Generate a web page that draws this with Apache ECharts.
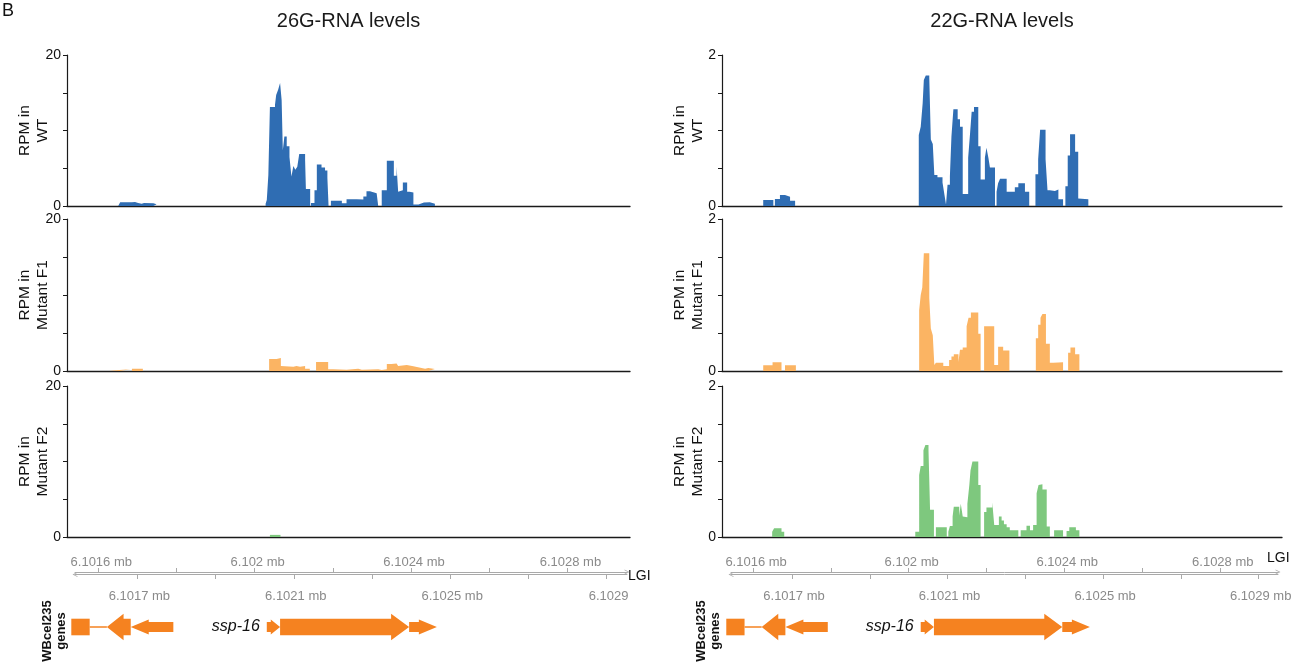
<!DOCTYPE html>
<html><head><meta charset="utf-8">
<script src="https://cdn.jsdelivr.net/npm/echarts@6/dist/echarts.min.js"></script>
<style>html,body{margin:0;padding:0;background:#fff}#chart{width:1292px;height:664px}</style>
</head><body><div id="chart"></div>
<script>
// ---------------- DATA ----------------
// genomic window shown (bp, chromosome I)
const REGION_START = 6101520;
const REGION_END = 6102960;

// coverage tracks: step functions, positions are bp offsets from REGION_START,
// value i holds from pos[i] to pos[i+1]

// 26G-RNA, WT (RPM)
const wt26Pos = [131,136,166,174,182,191,197,201,221,229,
  508,511,515,519,532,535,540,545,549,552,556,562,569,574,579,584,589,594,609,611,622,624,633,639,651,660,666,669,
  675,703,715,741,758,766,775,792,796,805,818,836,843,847,852,859,870,876,886,899,913,928,941];
const wt26Val = [0.22,0.49,0.53,0.40,0.30,0.40,0.22,0.35,0.22,0,
  0.3,0.8,4.1,13.1,13.4,14.7,15.4,16.3,14.0,7.4,9.2,7.9,6.5,3.9,5.3,4.8,5.2,6.9,6.1,2.25,0,0.4,2.1,5.5,5.1,4.7,3.7,0,
  0.7,0.35,0.9,0.85,1.25,1.95,1.7,1.5,0,2.1,6.0,4.0,5.2,1.9,2.1,3.1,1.9,1.8,0.2,0.45,0.5,0.3,0];

// 26G-RNA, Mutant F1
const f1_26Pos = [108,134,163,166,194,200,229,
  517,536,547,552,579,587,596,609,621,637,668,681,715,745,754,796,805,818,830,843,847,852,869,886,907,916,924,941];
const f1_26Val = [0.13,0.22,0,0.31,0,0.18,0,
  1.58,1.72,0.66,0.57,0.66,0.57,0.66,0.31,0,1.19,0.22,0.18,0.31,0.18,0.22,0.13,0.22,0.92,1.0,1.19,0.66,0.8,0.62,0.4,0.31,0.4,0.26,0];

// 26G-RNA, Mutant F2
const f2_26Pos = [519,546];
const f2_26Val = [0.28,0];

// 22G-RNA, WT
const wt22Pos = [106,132,136,149,162,175,188,
  506,511,516,519,524,533,537,542,546,554,567,572,576,580,586,590,595,606,612,619,633,638,642,648,659,665,676,680,685,689,702,
  706,710,715,732,753,762,779,790,806,813,818,832,837,843,856,865,877,883,889,895,908,916,920,942];
const wt22Val = [0.079,0,0.093,0.146,0.124,0.07,0,
  0.94,1.05,1.36,1.67,1.73,1.70,0.88,0.82,0.41,0.38,0.31,0.15,0.02,0.28,0.39,0.92,1.28,1.15,1.05,0.16,0.64,0.97,1.25,1.31,0.79,0.35,0.64,0.77,0.64,0.51,0,
  0.19,0.30,0.36,0.19,0.25,0.30,0.19,0,0.42,0.62,1.01,0.62,0.21,0.20,0.22,0.09,0,0.26,0.67,0.95,0.72,0.1,0.09,0];

// 22G-RNA, Mutant F1
const f1_22Pos = [106,130,153,162,190,
  507,511,515,519,533,537,542,546,550,569,584,590,596,608,612,619,629,634,640,659,665,674,700,710,723,739,
  807,813,819,824,833,843,852,877,890,896,908,919];
const f1_22Val = [0.075,0.114,0,0.075,0,
  0.8,1.0,1.1,1.55,0.96,0.56,0.47,0.08,0.11,0.066,0.145,0.19,0.22,0.12,0.28,0.31,0.59,0.70,0.77,0.49,0,0.59,0.08,0.32,0.27,0,
  0.43,0.61,0.70,0.75,0.36,0.11,0.114,0,0.24,0.31,0.22,0];

// 22G-RNA, Mutant F2
const f2_22Pos = [129,134,153,160,
  497,507,511,518,523,531,535,545,550,578,582,586,593,596,610,614,619,622,631,636,639,644,659,665,674,680,695,700,712,719,725,732,740,762,
  768,783,792,800,809,814,819,824,835,843,854,877,886,893,910,919];
const f2_22Val = [0.07,0.115,0.07,0,
  0.07,0.82,0.94,1.15,1.22,1.15,0.36,0,0.13,0,0.07,0.145,0.27,0.40,0.28,0.44,0.27,0.26,0.44,0.69,0.88,1.0,0.69,0,0.33,0.39,0.46,0.16,0.27,0.22,0.17,0.13,0.09,0,
  0.09,0.15,0.09,0.16,0.58,0.69,0.70,0.63,0.14,0,0.09,0,0.08,0.13,0.09,0];

// gene models (WBcel235), bp offsets from REGION_START
const geneFeatStart  = [11, 58, 102, 163, 511, 545, 875];
const geneFeatEnd    = [58, 102, 163, 272, 545, 875, 946];
const geneFeatPart   = ['exon','intron','cds','utr','utr','cds','utr'];
const geneFeatStrand = ['-','-','-','-','+','+','+'];
const geneLabelText  = ['ssp-16'];
const geneLabelPos   = [511];

// genome ruler ticks (bp) and labels
const rulerTopTicks    = [6101600,6101800,6102000,6102200,6102400,6102600,6102800];
const rulerTopLabelPos = [6101600,6102000,6102400,6102800];
const rulerTopLabelTxt = ['6.1016 mb','6.102 mb','6.1024 mb','6.1028 mb'];
const rulerBotTicks    = [6101700,6101900,6102100,6102300,6102500,6102700,6102900];
const rulerBotLabelPos = [6101700,6102100,6102500,6102900];
const rulerBotLabelTxtLeft  = ['6.1017 mb','6.1021 mb','6.1025 mb','6.1029'];
const rulerBotLabelTxtRight = ['6.1017 mb','6.1021 mb','6.1025 mb','6.1029 mb'];

const panelTitles = ['26G-RNA levels','22G-RNA levels'];
const trackNames = ['RPM in\nWT','RPM in\nMutant F1','RPM in\nMutant F2'];
const yMaxes = [20, 2];
const yIntervals = [5, 0.5];

// ---------------- STYLE / LAYOUT ----------------
const FONT = '"Liberation Sans", Arial, Helvetica, sans-serif';
const TRACK_COLORS = ['#2f6db3', '#fbb463', '#7ec87e'];
const GENE_COLOR = '#f58220';
const RULER_COLOR = '#a9a9a9';
const RULER_TEXT = '#8a8a8a';
const CHEV = 'path://M0,10 L5,0 L10,10 L8.4,10 L5,3.2 L1.6,10 Z';

const cols = [
  {left: 67, width: 563, rulerL: 75, rulerR: 627, tracks: [[wt26Pos,wt26Val],[f1_26Pos,f1_26Val],[f2_26Pos,f2_26Val]], botTxt: rulerBotLabelTxtLeft},
  {left: 722, width: 560, rulerL: 731, rulerR: 1278, tracks: [[wt22Pos,wt22Val],[f1_22Pos,f1_22Val],[f2_22Pos,f2_22Val]], botTxt: rulerBotLabelTxtRight}
];
const rowTops = [55, 219, 386];
const rowHeights = [151, 152, 151];

// step function -> corner points in data space (value i spans pos[i]..pos[i+1]);
// zero stretches break the area so nothing is drawn there
function stepPoints(pos, val) {
  const out = [];
  let open = false;
  for (let i = 0; i < pos.length - 1; i++) {
    const x0 = REGION_START + pos[i], x1 = REGION_START + pos[i + 1], v = val[i];
    if (v > 0) {
      if (!open) { out.push([x0, 0]); open = true; }
      out.push([x0, v], [x1, v]);
    } else if (open) {
      out.push([x0, 0], [x0, '-']);
      open = false;
    }
  }
  if (open) out.push([REGION_START + pos[pos.length - 1], 0]);
  return out;
}

const grid = [], xAxis = [], yAxis = [], series = [];

cols.forEach((c, ci) => {
  const yMax = yMaxes[ci], yInt = yIntervals[ci];
  // data tracks
  c.tracks.forEach((t, ri) => {
    const gi = grid.length;
    grid.push({left: c.left, top: rowTops[ri], width: c.width, height: rowHeights[ri], containLabel: false, outerBoundsMode: 'none'});
    const xi = xAxis.length;
    xAxis.push({gridIndex: gi, type: 'value', min: REGION_START, max: REGION_END,
      axisLine: {show: true, onZero: false, lineStyle: {color: '#1a1a1a', width: 1.3}},
      axisTick: {show: false}, axisLabel: {show: false}, splitLine: {show: false}});
    const yi = yAxis.length;
    yAxis.push({gridIndex: gi, type: 'value', min: 0, max: yMax, interval: yInt,
      axisLine: {show: true, lineStyle: {color: '#1a1a1a', width: 1.2}},
      axisTick: {show: true, length: 4, lineStyle: {color: '#1a1a1a', width: 1}},
      axisLabel: {formatter: v => (v === 0 || v === yMax) ? String(v) : '', fontSize: 14, color: '#111', margin: 6, fontFamily: FONT},
      splitLine: {show: false},
      name: trackNames[ri], nameLocation: 'middle', nameRotate: 90, nameGap: 15, nameMoveOverlap: false,
      nameTextStyle: {fontSize: 15.5, lineHeight: 18, color: '#111', fontFamily: FONT}});
    series.push({type: 'line', xAxisIndex: xi, yAxisIndex: yi, data: stepPoints(t[0], t[1]), symbol: 'none', silent: true,
      connectNulls: false, lineStyle: {width: 0, opacity: 0}, areaStyle: {color: TRACK_COLORS[ri], opacity: 1}});
  });

  // genome ruler
  const scale = c.width / (REGION_END - REGION_START);
  const rMin = REGION_START + (c.rulerL - c.left) / scale;
  const rMax = REGION_START + (c.rulerR - c.left) / scale;
  const rg = grid.length;
  grid.push({left: c.rulerL, top: 572, width: c.rulerR - c.rulerL, height: 2.5, containLabel: false, outerBoundsMode: 'none'});
  yAxis.push({gridIndex: rg, type: 'value', min: 0, max: 1, show: false});
  xAxis.push({gridIndex: rg, type: 'value', position: 'top', min: rMin, max: rMax,
    axisLine: {show: true, onZero: false, lineStyle: {color: RULER_COLOR, width: 1}, symbol: ['none', CHEV], symbolSize: [7, 5]},
    axisTick: {show: true, length: 4, customValues: rulerTopTicks, lineStyle: {color: RULER_COLOR}},
    axisLabel: {show: true, customValues: rulerTopLabelPos, formatter: v => rulerTopLabelTxt[rulerTopLabelPos.indexOf(v)] || '',
      color: RULER_TEXT, fontSize: 13, margin: 3, fontFamily: FONT, padding: [0, 0, 0, 6]},
    splitLine: {show: false}});
  xAxis.push({gridIndex: rg, type: 'value', position: 'bottom', min: rMin, max: rMax,
    axisLine: {show: true, onZero: false, lineStyle: {color: RULER_COLOR, width: 1}, symbol: [CHEV, 'none'], symbolSize: [7, 5]},
    axisTick: {show: true, length: 4.5, customValues: rulerBotTicks, lineStyle: {color: RULER_COLOR}},
    axisLabel: {show: true, customValues: rulerBotLabelPos, formatter: v => c.botTxt[rulerBotLabelPos.indexOf(v)] || '',
      color: RULER_TEXT, fontSize: 13, margin: 15, fontFamily: FONT, padding: [0, 0, 0, 4]},
    splitLine: {show: false}});

  // gene track
  const gg = grid.length;
  grid.push({left: c.left, top: 602, width: c.width, height: 50, containLabel: false, outerBoundsMode: 'none'});
  const gxi = xAxis.length, gyi = yAxis.length;
  xAxis.push({gridIndex: gg, type: 'value', min: REGION_START, max: REGION_END, show: false});
  yAxis.push({gridIndex: gg, type: 'value', min: 0, max: 1, show: false});
  series.push({type: 'custom', xAxisIndex: gxi, yAxisIndex: gyi, silent: true, clip: false,
    data: geneFeatStart.map((s, i) => [REGION_START + s, REGION_START + geneFeatEnd[i]]),
    renderItem: (params, api) => {
      const i = params.dataIndex;
      const p0 = api.coord([api.value(0), 0.5]), p1 = api.coord([api.value(1), 0.5]);
      const x0 = p0[0], x1 = p1[0], y = p0[1];
      const part = geneFeatPart[i], strand = geneFeatStrand[i];
      const st = {fill: GENE_COLOR};
      if (part === 'intron') {
        return {type: 'line', shape: {x1: x0, y1: y, x2: x1, y2: y}, style: {stroke: GENE_COLOR, lineWidth: 1.5}};
      }
      if (part === 'exon') {
        return {type: 'rect', shape: {x: x0, y: y - 8.3, width: x1 - x0, height: 16.6}, style: st};
      }
      const bh = part === 'cds' ? 8.3 : 5;
      const hh = part === 'cds' ? 13.3 : 7.5;
      const h = Math.min(18, (x1 - x0) * 0.7);
      let pts;
      if (strand === '+') {
        pts = [[x0, y - bh], [x1 - h, y - bh], [x1 - h, y - hh], [x1, y], [x1 - h, y + hh], [x1 - h, y + bh], [x0, y + bh]];
      } else {
        pts = [[x1, y - bh], [x0 + h, y - bh], [x0 + h, y - hh], [x0, y], [x0 + h, y + hh], [x0 + h, y + bh], [x1, y + bh]];
      }
      return {type: 'polygon', shape: {points: pts}, style: st};
    }});
  series.push({type: 'custom', xAxisIndex: gxi, yAxisIndex: gyi, silent: true, clip: false,
    data: geneLabelPos.map(p => [REGION_START + p]),
    renderItem: (params, api) => {
      const pt = api.coord([api.value(0), 0.5]);
      return {type: 'text', x: pt[0] - 7, y: pt[1], style: {text: geneLabelText[params.dataIndex], align: 'right', verticalAlign: 'middle',
        font: 'italic 16px ' + FONT, fill: '#111'}};
    }});
});

const graphic = [
  {type: 'text', x: 2, y: 11, style: {text: 'B', fontSize: 18, fontFamily: FONT, fill: '#111', verticalAlign: 'middle', align: 'left'}},
  {type: 'text', x: 348.5, y: 21, style: {text: panelTitles[0], fontSize: 20, fontFamily: FONT, fill: '#1a1a1a', align: 'center', verticalAlign: 'middle'}},
  {type: 'text', x: 1002, y: 21, style: {text: panelTitles[1], fontSize: 20, fontFamily: FONT, fill: '#1a1a1a', align: 'center', verticalAlign: 'middle'}},
  {type: 'text', x: 628, y: 576, style: {text: 'LGI', fontSize: 14, fontFamily: FONT, fill: '#111', align: 'left', verticalAlign: 'middle'}},
  {type: 'text', x: 1267, y: 558, style: {text: 'LGI', fontSize: 14, fontFamily: FONT, fill: '#111', align: 'left', verticalAlign: 'middle'}},
  {type: 'text', x: 54, y: 631, rotation: Math.PI / 2, style: {text: 'WBcel235\ngenes', font: 'bold 13px ' + FONT, lineHeight: 14, fill: '#111', align: 'center', verticalAlign: 'middle'}},
  {type: 'text', x: 708, y: 631, rotation: Math.PI / 2, style: {text: 'WBcel235\ngenes', font: 'bold 13px ' + FONT, lineHeight: 14, fill: '#111', align: 'center', verticalAlign: 'middle'}}
];

const chart = echarts.init(document.getElementById('chart'), null, {renderer: 'canvas'});
chart.setOption({animation: false, backgroundColor: '#fff', textStyle: {fontFamily: FONT}, grid, xAxis, yAxis, series, graphic});
</script></body></html>
